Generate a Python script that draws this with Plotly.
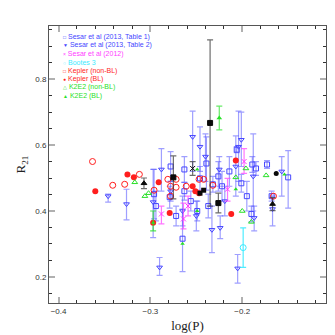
import plotly.graph_objects as go

# ---------------- data ----------------
# Sesar et al (2013, Table 1) - open squares
t1_x = [-0.296, -0.294, -0.279, -0.265, -0.263, -0.263, -0.246, -0.237, -0.232, -0.226, -0.222, -0.206, -0.201,
        -0.195, -0.189, -0.185, -0.190, -0.173, -0.168, -0.150, -0.249, -0.272, -0.214, -0.256, -0.239, -0.278]
t1_y = [0.451, 0.415, 0.442, 0.316, 0.526, 0.460, 0.499, 0.415, 0.481, 0.505, 0.475, 0.586, 0.484,
        0.445, 0.541, 0.529, 0.391, 0.541, 0.445, 0.502, 0.400, 0.385, 0.520, 0.430, 0.544, 0.535]
t1_ep = [0.075, 0.045, 0.033, 0.090, 0.039, 0.027, 0.036, 0.036, 0.024, 0.045, 0.045, 0.009, 0.027,
         0.045, 0.024, 0.021, 0.024, 0.012, 0.015, 0.081, 0.030, 0.030, 0.045, 0.030, 0.081, 0.045]
t1_em = [0.075, 0.045, 0.033, 0.100, 0.039, 0.027, 0.036, 0.036, 0.024, 0.045, 0.045, 0.009, 0.027,
         0.045, 0.024, 0.021, 0.024, 0.012, 0.015, 0.093, 0.030, 0.030, 0.045, 0.030, 0.081, 0.045]

# Sesar et al (2013, Table 2) - down triangles
t2_x = [-0.346, -0.326, -0.288, -0.290, -0.297, -0.254, -0.246, -0.240, -0.233, -0.224, -0.205, -0.201,
        -0.204, -0.188, -0.167, -0.157, -0.225, -0.207, -0.265, -0.250, -0.187, -0.278, -0.219]
t2_y = [0.445, 0.421, 0.526, 0.229, 0.427, 0.625, 0.595, 0.565, 0.343, 0.349, 0.226, 0.616,
        0.595, 0.505, 0.406, 0.520, 0.526, 0.535, 0.400, 0.385, 0.379, 0.460, 0.430]
t2_ep = [0.006, 0.045, 0.063, 0.030, 0.099, 0.078, 0.060, 0.069, 0.072, 0.036, 0.042, 0.084,
         0.108, 0.129, 0.039, 0.045, 0.039, 0.093, 0.045, 0.045, 0.036, 0.030, 0.045]
t2_em = [0.018, 0.048, 0.066, 0.024, 0.108, 0.105, 0.075, 0.075, 0.069, 0.033, 0.045, 0.081,
         0.105, 0.105, 0.051, 0.075, 0.051, 0.090, 0.045, 0.045, 0.039, 0.030, 0.045]

# Sesar et al (2012) - crosses
s12_x = [-0.288, -0.264, -0.216, -0.198, -0.259]
s12_y = [0.391, 0.376, 0.466, 0.550, 0.415]
s12_ep = [0.024, 0.048, 0.033, 0.039, 0.030]
s12_em = [0.030, 0.030, 0.036, 0.036, 0.030]

# Bootes 3
b3_x = [-0.199]
b3_y = [0.289]
b3_e = [0.060]

# Kepler (non-BL) - open circles
kn_x = [-0.363, -0.341, -0.328, -0.312, -0.296, -0.281, -0.278, -0.272, -0.272, -0.247, -0.242, -0.232,
        -0.166, -0.278, -0.261]
kn_y = [0.550, 0.478, 0.481, 0.511, 0.463, 0.496, 0.475, 0.496, 0.472, 0.496, 0.496, 0.478,
        0.445, 0.445, 0.475]

# Kepler (BL) - filled circles
kb_x = [-0.360, -0.325, -0.318, -0.291, -0.279, -0.297, -0.254, -0.251, -0.247, -0.207, -0.212]
kb_y = [0.460, 0.511, 0.502, 0.487, 0.394, 0.364, 0.475, 0.460, 0.454, 0.553, 0.391]

# K2E2 (non-BL) - open triangles
gn_x = [-0.317, -0.306, -0.302, -0.196, -0.174, -0.200, -0.190, -0.207]
gn_y = [0.487, 0.445, 0.454, 0.529, 0.508, 0.400, 0.367, 0.502]
gn_bar_x = [-0.225]
gn_bar_y = [0.682]
gn_bar_e = [0.036]

# K2E2 (BL) - filled triangles
gb_x = [-0.249, -0.154, -0.265, -0.207, -0.249]
gb_y = [0.526, 0.511, 0.301, 0.466, 0.400]
gb_bar_x = [-0.297]
gb_bar_y = [0.364]
gb_bar_ep = [0.036]
gb_bar_em = [0.024]

# other (black) points
bk_x = [-0.246, -0.242, -0.163]
bk_y = [0.454, 0.463, 0.514]
bk_sym = ["square", "square", "circle"]
bkb_x = [-0.235, -0.275, -0.226, -0.307, -0.167, -0.254]
bkb_y = [0.667, 0.502, 0.424, 0.484, 0.421, 0.529]
bkb_e = [0.252, 0.065, 0.030, 0.016, 0.020, 0.021]
bkb_sym = ["square", "square", "square", "triangle-up", "triangle-up", "x-thin-open"]

legend_labels = ["Sesar et al (2013, Table 1)", "Sesar et al (2013, Table 2)", "Sesar et al (2012)",
                 "Bootes 3", "Kepler (non-BL)", "Kepler (BL)", "K2E2 (non-BL)", "K2E2 (BL)"]
legend_glyphs = ["□", "▼", "×", "○", "□", "●", "△", "▲"]

x_ticks = [-0.4, -0.3, -0.2]
y_ticks = [0.2, 0.4, 0.6, 0.8]

# ---------------- styles ----------------
BLUE = "rgb(70,70,255)"
BLUE_BAR = "rgba(80,80,255,0.55)"
MAG = "rgb(255,60,255)"
CYAN = "rgb(60,235,255)"
RED = "rgb(255,30,30)"
GREEN = "rgb(40,225,40)"
BLACK = "rgb(10,10,10)"

fig = go.Figure()

def eb(ep, em=None, color=BLUE_BAR):
    d = dict(type="data", array=ep, color=color, thickness=1.2, width=3)
    if em is not None:
        d["symmetric"] = False
        d["arrayminus"] = em
    return d

fig.add_trace(go.Scatter(x=t1_x, y=t1_y, mode="markers", error_y=eb(t1_ep, t1_em),
                         marker=dict(symbol="square-open", size=5, color=BLUE, line=dict(width=1))))
fig.add_trace(go.Scatter(x=t2_x, y=t2_y, mode="markers", error_y=eb(t2_ep, t2_em),
                         marker=dict(symbol="triangle-down-open", size=5, color=BLUE, line=dict(width=1))))
fig.add_trace(go.Scatter(x=s12_x, y=s12_y, mode="markers", error_y=eb(s12_ep, s12_em, "rgba(255,60,255,0.7)"),
                         marker=dict(symbol="x-thin-open", size=5, color=MAG, line=dict(width=1, color=MAG))))
fig.add_trace(go.Scatter(x=b3_x, y=b3_y, mode="markers", error_y=eb(b3_e, None, "rgba(60,235,255,0.9)"),
                         marker=dict(symbol="circle-open", size=6, color=CYAN, line=dict(width=1))))
fig.add_trace(go.Scatter(x=kn_x, y=kn_y, mode="markers",
                         marker=dict(symbol="circle-open", size=6, color=RED, line=dict(width=1))))
fig.add_trace(go.Scatter(x=kb_x, y=kb_y, mode="markers",
                         marker=dict(symbol="circle", size=6, color=RED)))
fig.add_trace(go.Scatter(x=gn_x, y=gn_y, mode="markers",
                         marker=dict(symbol="triangle-up-open", size=5, color=GREEN, line=dict(width=1))))
fig.add_trace(go.Scatter(x=gn_bar_x, y=gn_bar_y, mode="markers", error_y=eb(gn_bar_e, None, "rgba(40,225,40,0.7)"),
                         marker=dict(symbol="triangle-up", size=5, color=GREEN)))
fig.add_trace(go.Scatter(x=gb_x, y=gb_y, mode="markers",
                         marker=dict(symbol="triangle-up", size=4, color=GREEN)))
fig.add_trace(go.Scatter(x=gb_bar_x, y=gb_bar_y, mode="markers",
                         error_y=eb(gb_bar_ep, gb_bar_em, "rgba(40,225,40,0.8)"),
                         marker=dict(symbol="triangle-up", size=4, color=GREEN)))
fig.add_trace(go.Scatter(x=bk_x, y=bk_y, mode="markers",
                         marker=dict(symbol=bk_sym, size=5, color=BLACK)))
fig.add_trace(go.Scatter(x=bkb_x, y=bkb_y, mode="markers", error_y=eb(bkb_e, None, "rgba(60,60,60,0.75)"),
                         marker=dict(symbol=bkb_sym, size=5, color=BLACK, line=dict(width=1, color=BLACK))))

legend_colors = [BLUE, BLUE, MAG, CYAN, RED, RED, GREEN, GREEN]
for i, (g, lab, c) in enumerate(zip(legend_glyphs, legend_labels, legend_colors)):
    fig.add_annotation(xref="paper", yref="paper", x=0.043, y=0.960 - i * 0.0302,
                       xanchor="left", yanchor="middle", showarrow=False,
                       text=f"<span style='font-size:5px'>{g}</span> {lab}",
                       font=dict(family="Liberation Sans, Arial", size=7, color=c))

axis_common = dict(showline=True, linecolor="#555", linewidth=1, mirror="allticks",
                   ticks="inside", ticklen=6, tickwidth=2, tickcolor="#b0b0b0",
                   showgrid=False, zeroline=False,
                   tickfont=dict(family="Liberation Sans, Arial", size=8, color="#333"))

fig.update_xaxes(range=[-0.4104, -0.1088], tickvals=x_ticks, **axis_common,
                 minor=dict(dtick=0.02, tick0=-0.4, ticks="inside", ticklen=3, tickcolor="#333", tickwidth=1),
                 title=dict(text="log(P)", standoff=6,
                            font=dict(family="Liberation Serif, DejaVu Serif", size=13, color="#222")))
fig.update_yaxes(range=[0.121, 0.961], tickvals=y_ticks, **axis_common,
                 minor=dict(dtick=0.05, tick0=0.2, ticks="inside", ticklen=3, tickcolor="#333", tickwidth=1),
                 title=dict(text="R<sub>21</sub>", standoff=6,
                            font=dict(family="Liberation Serif, DejaVu Serif", size=13, color="#222")))

fig.update_layout(width=335, height=335, margin=dict(l=36, r=17, t=18, b=37),
                  plot_bgcolor="white", paper_bgcolor="white", showlegend=False)

fig.write_html("out.html")
